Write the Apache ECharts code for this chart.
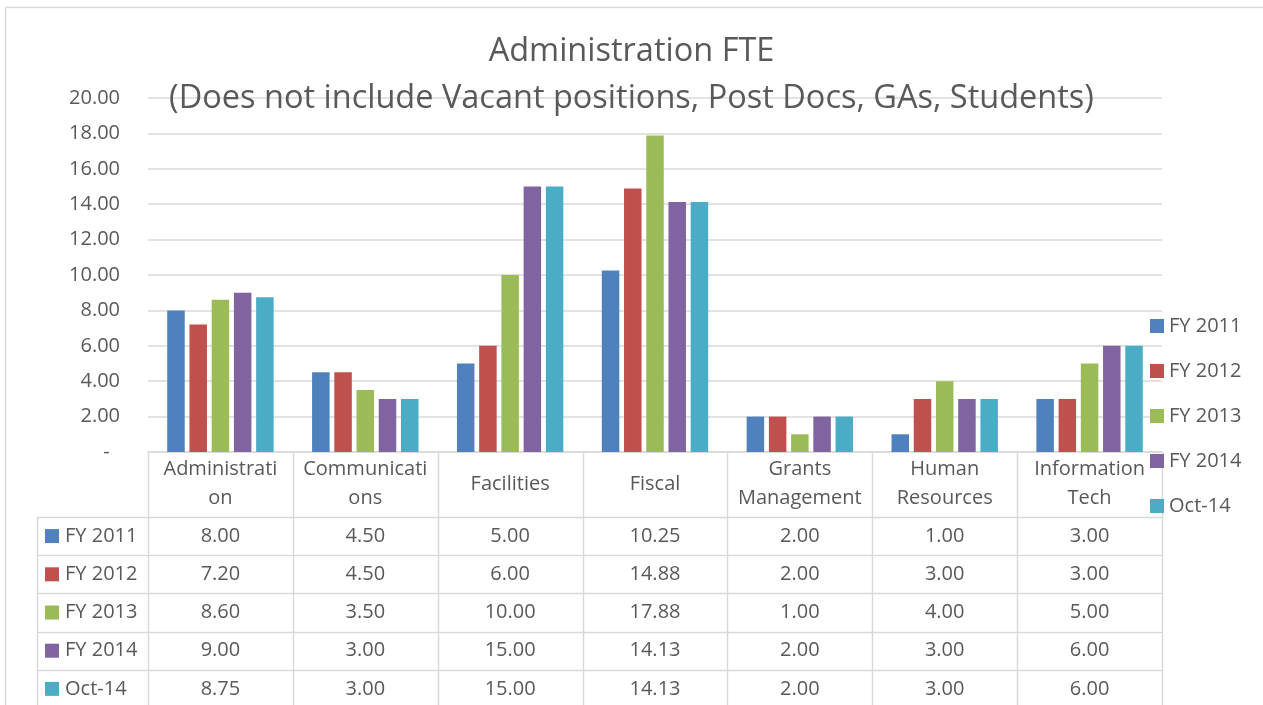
<!DOCTYPE html>
<html>
<head>
<meta charset="utf-8">
<script src="https://cdn.jsdelivr.net/npm/echarts@6/dist/echarts.min.js"></script>
<style>
html,body{margin:0;padding:0;background:#fff;}
#chart{width:1263px;height:705px;}
</style>
</head>
<body>
<div id="chart"></div>
<script>
// ---- data ----
const categories = ['Administration', 'Communications', 'Facilities', 'Fiscal', 'Grants Management', 'Human Resources', 'Information Tech'];
const categoryLabels = ['Administrati\non', 'Communicati\nons', 'Facilities', 'Fiscal', 'Grants\nManagement', 'Human\nResources', 'Information\nTech'];
const seriesNames = ['FY 2011', 'FY 2012', 'FY 2013', 'FY 2014', 'Oct-14'];
const fy2011 = [8.00, 4.50, 5.00, 10.25, 2.00, 1.00, 3.00];
const fy2012 = [7.20, 4.50, 6.00, 14.88, 2.00, 3.00, 3.00];
const fy2013 = [8.60, 3.50, 10.00, 17.88, 1.00, 4.00, 5.00];
const fy2014 = [9.00, 3.00, 15.00, 14.13, 2.00, 3.00, 6.00];
const oct14  = [8.75, 3.00, 15.00, 14.13, 2.00, 3.00, 6.00];
const seriesValues = [fy2011, fy2012, fy2013, fy2014, oct14];
const colors = ['#4F81BD', '#C0504D', '#9BBB59', '#8064A2', '#4BACC6'];
const titleLines = ['Administration FTE', '(Does not include Vacant positions, Post Docs, GAs, Students)'];

// ---- layout ----
const W = 1263, H = 705;
const GL = 148, GR = 1162, GT = 98, GB = 452;
const FONT = '"Open Sans", sans-serif';
const TXT = '#595959';
const LINE = '#d9d9d9';
const tableLeft = 37;
const headerBottom = 517;
const rowH = 38.2;

const chart = echarts.init(document.getElementById('chart'), null, {renderer: 'canvas'});

const series = seriesNames.map((name, i) => ({
  name: name,
  type: 'bar',
  data: seriesValues[i],
  barWidth: 17.5,
  barGap: '27%',
  itemStyle: {color: colors[i]}
}));

// table graphics
const graphics = [];
const colW = (GR - GL) / categories.length;
const nRows = seriesNames.length;
const tableBottom = headerBottom + rowH * nRows + 5;
// outer border
graphics.push({type: 'rect', shape: {x: 5.5, y: 7.5, width: 1270, height: 800}, style: {fill: 'none', stroke: LINE, lineWidth: 1.5}, silent: true, z: -10});
// vertical lines
for (let c = 0; c <= categories.length; c++) {
  const x = Math.round(GL + c * colW) + 0.5;
  graphics.push({type: 'line', shape: {x1: x, y1: GB, x2: x, y2: tableBottom}, style: {stroke: LINE, lineWidth: 1.5}, silent: true});
}
graphics.push({type: 'line', shape: {x1: tableLeft + 0.5, y1: headerBottom, x2: tableLeft + 0.5, y2: tableBottom}, style: {stroke: LINE, lineWidth: 1.5}, silent: true});
// horizontal lines
for (let r = 0; r <= nRows; r++) {
  const y = Math.round(headerBottom + r * rowH) + 0.5;
  graphics.push({type: 'line', shape: {x1: tableLeft, y1: y, x2: GR, y2: y}, style: {stroke: LINE, lineWidth: 1.5}, silent: true});
}
// row headers and values
for (let r = 0; r < nRows; r++) {
  const cy = headerBottom + r * rowH + rowH / 2;
  graphics.push({type: 'rect', shape: {x: 45, y: cy - 7, width: 14, height: 14}, style: {fill: colors[r]}, silent: true});
  graphics.push({type: 'text', x: 65, y: cy, style: {text: seriesNames[r], fill: TXT, font: '20px ' + FONT, textAlign: 'left', textVerticalAlign: 'middle'}, silent: true});
  for (let c = 0; c < categories.length; c++) {
    graphics.push({type: 'text', x: GL + c * colW + colW / 2, y: cy, style: {text: seriesValues[r][c].toFixed(2), fill: TXT, font: '20px ' + FONT, textAlign: 'center', textVerticalAlign: 'middle'}, silent: true});
  }
}

const option = {
  animation: false,
  backgroundColor: '#fff',
  color: colors,
  title: {
    text: titleLines.join('\n'),
    left: 'center',
    top: 23,
    padding: [5, 0, 5, 10],
    textStyle: {fontFamily: FONT, fontSize: 32.5, fontWeight: 'normal', color: TXT, lineHeight: 47}
  },
  legend: {
    orient: 'vertical',
    left: 1145,
    top: 311,
    itemWidth: 14,
    itemHeight: 14,
    itemGap: 25,
    icon: 'rect',
    data: seriesNames,
    textStyle: {fontFamily: FONT, fontSize: 20, color: TXT, lineHeight: 20}
  },
  grid: {left: GL, right: W - GR, top: GT, bottom: H - GB, containLabel: false},
  xAxis: {
    type: 'category',
    data: categories,
    axisTick: {show: false},
    axisLine: {lineStyle: {color: LINE, width: 1.5}},
    axisLabel: {
      interval: 0,
      formatter: (v, i) => categoryLabels[i],
      fontFamily: FONT, fontSize: 20, color: TXT, lineHeight: 29,
      verticalAlign: 'middle',
      margin: 32
    }
  },
  yAxis: {
    type: 'value',
    min: 0, max: 20, interval: 2,
    axisLine: {show: false},
    axisTick: {show: false},
    splitLine: {lineStyle: {color: LINE, width: 1.5}},
    axisLabel: {
      formatter: v => v === 0 ? '-  ' : v.toFixed(2),
      fontFamily: FONT, fontSize: 20, color: TXT, margin: 28
    }
  },
  series: series,
  graphic: graphics
};
chart.setOption(option);
</script>
</body>
</html>
